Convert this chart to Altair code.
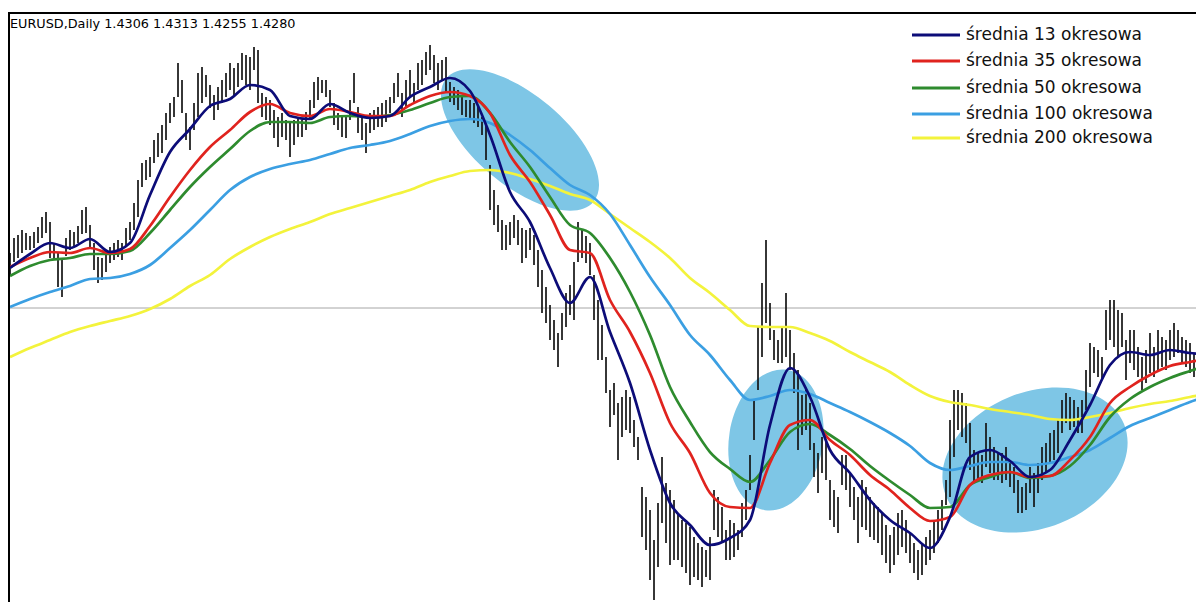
import altair as alt
import pandas as pd

# ---------------- data ----------------
title_text = "EURUSD,Daily  1.4306 1.4313 1.4255 1.4280"
last_close = 1.4280

legend_labels = ["średnia 13 okresowa", "średnia 35 okresowa", "średnia 50 okresowa",
                 "średnia 100 okresowa", "średnia 200 okresowa"]

bar_high = [
    1.4555, 1.4630, 1.4645, 1.4670, 1.4655, 1.4640, 1.4660, 1.4685, 1.4735, 1.4760,
    1.4710, 1.4605, 1.4555, 1.4520, 1.4630, 1.4670, 1.4660, 1.4690, 1.4770, 1.4785,
    1.4695, 1.4605, 1.4535, 1.4530, 1.4560, 1.4585, 1.4605, 1.4620, 1.4605, 1.4680,
    1.4710, 1.4805, 1.4920, 1.5005, 1.5020, 1.5035, 1.5120, 1.5155, 1.5195, 1.5255,
    1.5305, 1.5335, 1.5505, 1.5420, 1.5255, 1.5185, 1.5305, 1.5455, 1.5485, 1.5445,
    1.5395, 1.5345, 1.5385, 1.5420, 1.5455, 1.5505, 1.5480, 1.5505, 1.5555, 1.5545,
    1.5535, 1.5585, 1.5570, 1.5355, 1.5335, 1.5320, 1.5270, 1.5235, 1.5255, 1.5220,
    1.5205, 1.5220, 1.5235, 1.5220, 1.5260, 1.5320, 1.5410, 1.5435, 1.5420, 1.5420,
    1.5370, 1.5305, 1.5255, 1.5235, 1.5235, 1.5320, 1.5455, 1.5285, 1.5235, 1.5205,
    1.5255, 1.5270, 1.5285, 1.5305, 1.5320, 1.5335, 1.5405, 1.5455, 1.5355, 1.5420,
    1.5470, 1.5405, 1.5505, 1.5520, 1.5560, 1.5595, 1.5545, 1.5505, 1.5520, 1.5535,
    1.5410, 1.5385, 1.5370, 1.5345, 1.5320, 1.5320, 1.5305, 1.5285, 1.5235, 1.5195,
    1.4995, 1.4870, 1.4795, 1.4720, 1.4695, 1.4710, 1.4745, 1.4720, 1.4680, 1.4670,
    1.4680, 1.4645, 1.4570, 1.4470, 1.4385, 1.4295, 1.4220, 1.4155, 1.4255, 1.4355,
    1.4395, 1.4510, 1.4710, 1.4670, 1.4640, 1.4605, 1.4445, 1.4320, 1.4195, 1.4035,
    1.3870, 1.3905, 1.3805, 1.3835, 1.3870, 1.3835, 1.3720, 1.3635, 1.3385, 1.3335,
    1.3270, 1.3120, 1.3305, 1.3535, 1.3405, 1.3370, 1.3320, 1.3255, 1.3220, 1.3205,
    1.3185, 1.3135, 1.3105, 1.3085, 1.3070, 1.3135, 1.3370, 1.3335, 1.3285, 1.3170,
    1.3220, 1.3205, 1.3170, 1.3305, 1.3370, 1.3545, 1.3820, 1.4185, 1.4405, 1.4620,
    1.4305, 1.4170, 1.4120, 1.4185, 1.4355, 1.4170, 1.4055, 1.3970, 1.3845, 1.3870,
    1.3805, 1.3605, 1.3555, 1.3635, 1.3620, 1.3420, 1.3370, 1.3335, 1.3545, 1.3545,
    1.3455, 1.3385, 1.3335, 1.3420, 1.3385, 1.3335, 1.3305, 1.3285, 1.3255, 1.3195,
    1.3145, 1.3185, 1.3255, 1.3270, 1.3220, 1.3155, 1.3105, 1.3070, 1.3105, 1.3135,
    1.3170, 1.3220, 1.3270, 1.3320, 1.3420, 1.3720, 1.3870, 1.3870, 1.3855, 1.3805,
    1.3705, 1.3570, 1.3555, 1.3545, 1.3705, 1.3635, 1.3585, 1.3555, 1.3555, 1.3585,
    1.3520, 1.3485, 1.3420, 1.3385, 1.3405, 1.3485, 1.3455, 1.3505, 1.3585, 1.3605,
    1.3655, 1.3670, 1.3720, 1.3820, 1.3855, 1.3835, 1.3820, 1.3785, 1.3820, 1.3970,
    1.4105, 1.4085, 1.4070, 1.4035, 1.4270, 1.4320, 1.4320, 1.4270, 1.4255, 1.4120,
    1.4170, 1.4170, 1.4085, 1.4035, 1.4070, 1.4155, 1.4085, 1.4170, 1.4135, 1.4120,
    1.4170, 1.4205, 1.4170, 1.4135, 1.4120, 1.4105, 1.4055, 1.4085, 1.4170,
]

bar_low = [
    1.4445, 1.4510, 1.4530, 1.4555, 1.4570, 1.4570, 1.4580, 1.4605, 1.4630, 1.4655,
    1.4530, 1.4520, 1.4385, 1.4335, 1.4540, 1.4570, 1.4585, 1.4605, 1.4650, 1.4655,
    1.4585, 1.4470, 1.4405, 1.4420, 1.4460, 1.4505, 1.4520, 1.4535, 1.4520, 1.4595,
    1.4620, 1.4670, 1.4735, 1.4885, 1.4920, 1.4935, 1.5005, 1.5035, 1.5055, 1.5120,
    1.5205, 1.5235, 1.5335, 1.5255, 1.5120, 1.5070, 1.5170, 1.5235, 1.5305, 1.5335,
    1.5280, 1.5220, 1.5270, 1.5305, 1.5335, 1.5370, 1.5335, 1.5385, 1.5420, 1.5395,
    1.5370, 1.5470, 1.5305, 1.5235, 1.5220, 1.5195, 1.5130, 1.5085, 1.5135, 1.5120,
    1.5035, 1.5095, 1.5135, 1.5135, 1.5170, 1.5220, 1.5280, 1.5320, 1.5355, 1.5335,
    1.5285, 1.5195, 1.5170, 1.5135, 1.5130, 1.5220, 1.5305, 1.5155, 1.5120, 1.5055,
    1.5155, 1.5170, 1.5185, 1.5185, 1.5210, 1.5255, 1.5305, 1.5335, 1.5235, 1.5285,
    1.5335, 1.5305, 1.5370, 1.5395, 1.5445, 1.5470, 1.5405, 1.5370, 1.5420, 1.5355,
    1.5310, 1.5295, 1.5270, 1.5245, 1.5235, 1.5220, 1.5205, 1.5185, 1.5145, 1.5020,
    1.4770, 1.4695, 1.4660, 1.4570, 1.4570, 1.4595, 1.4630, 1.4595, 1.4505, 1.4530,
    1.4570, 1.4495, 1.4385, 1.4255, 1.4205, 1.4120, 1.4070, 1.3985, 1.4120, 1.4185,
    1.4245, 1.4220, 1.4510, 1.4530, 1.4505, 1.4445, 1.4220, 1.4020, 1.4020, 1.3855,
    1.3685, 1.3745, 1.3520, 1.3635, 1.3670, 1.3655, 1.3585, 1.3520, 1.3135, 1.3070,
    1.2920, 1.2820, 1.2985, 1.3205, 1.3105, 1.2995, 1.3020, 1.3020, 1.2985, 1.2955,
    1.2895, 1.2935, 1.2920, 1.2885, 1.2935, 1.2920, 1.3170, 1.3135, 1.3105, 1.3020,
    1.3020, 1.3035, 1.3070, 1.3135, 1.3220, 1.3370, 1.3620, 1.3870, 1.4035, 1.4205,
    1.4120, 1.4020, 1.4005, 1.4005, 1.4035, 1.3970, 1.3855, 1.3570, 1.3645, 1.3670,
    1.3570, 1.3435, 1.3355, 1.3455, 1.3420, 1.3220, 1.3185, 1.3155, 1.3395, 1.3370,
    1.3285, 1.3220, 1.3105, 1.3185, 1.3170, 1.3135, 1.3120, 1.3105, 1.3045, 1.3005,
    1.2955, 1.2995, 1.3045, 1.3085, 1.3055, 1.3005, 1.2955, 1.2920, 1.2945, 1.2995,
    1.3020, 1.3055, 1.3105, 1.3170, 1.3295, 1.3335, 1.3535, 1.3670, 1.3635, 1.3605,
    1.3470, 1.3405, 1.3420, 1.3405, 1.3485, 1.3455, 1.3420, 1.3420, 1.3405, 1.3420,
    1.3385, 1.3355, 1.3255, 1.3255, 1.3270, 1.3355, 1.3285, 1.3355, 1.3420, 1.3455,
    1.3505, 1.3520, 1.3555, 1.3655, 1.3705, 1.3670, 1.3685, 1.3655, 1.3655, 1.3770,
    1.3885, 1.3955, 1.3935, 1.3920, 1.4070, 1.4120, 1.4085, 1.4035, 1.4085, 1.3920,
    1.4005, 1.3970, 1.3935, 1.3870, 1.3905, 1.3955, 1.3935, 1.3970, 1.3985, 1.3970,
    1.4020, 1.4035, 1.4055, 1.4005, 1.3985, 1.3955, 1.3935, 1.3970, 1.4005,
]

ma_index = [0, 5, 10, 15, 20, 25, 30, 35, 40, 45,
            50, 55, 60, 65, 70, 75, 80, 85, 90, 95,
            100, 105, 110, 115, 120, 125, 130, 135, 140, 145,
            150, 155, 160, 165, 170, 175, 180, 185, 190, 195,
            200, 205, 210, 215, 220, 225, 230, 235, 240, 245,
            250, 255, 260, 265, 270, 275, 280, 285, 290, 295, 298]

ma13 = [1.4480, 1.4550, 1.4605, 1.4580, 1.4625, 1.4560, 1.4605, 1.4845, 1.5060, 1.5175,
        1.5290, 1.5325, 1.5395, 1.5370, 1.5240, 1.5225, 1.5300, 1.5255, 1.5230, 1.5240,
        1.5335, 1.5385, 1.5430, 1.5365, 1.5145, 1.4860, 1.4710, 1.4480, 1.4305, 1.4435,
        1.4160, 1.3905, 1.3570, 1.3305, 1.3195, 1.3095, 1.3130, 1.3220, 1.3695, 1.3980,
        1.3835, 1.3570, 1.3455, 1.3320, 1.3220, 1.3155, 1.3080, 1.3235, 1.3535, 1.3570,
        1.3515, 1.3435, 1.3470, 1.3620, 1.3795, 1.3995, 1.4060, 1.4045, 1.4070, 1.4055, 1.4050]

ma35 = [1.4485, 1.4530, 1.4560, 1.4555, 1.4580, 1.4555, 1.4575, 1.4690, 1.4835, 1.4970,
        1.5085, 1.5170, 1.5260, 1.5300, 1.5255, 1.5240, 1.5275, 1.5260, 1.5240, 1.5240,
        1.5295, 1.5340, 1.5360, 1.5340, 1.5255, 1.5045, 1.4910, 1.4745, 1.4570, 1.4555,
        1.4320, 1.4160, 1.3955, 1.3705, 1.3555, 1.3355, 1.3285, 1.3280, 1.3505, 1.3695,
        1.3720, 1.3620, 1.3545, 1.3445, 1.3370, 1.3280, 1.3215, 1.3235, 1.3395, 1.3445,
        1.3460, 1.3435, 1.3440, 1.3520, 1.3635, 1.3805, 1.3885, 1.3945, 1.3990, 1.4010, 1.4020]

ma50 = [1.4440, 1.4490, 1.4520, 1.4530, 1.4550, 1.4550, 1.4565, 1.4655, 1.4770, 1.4885,
        1.4985, 1.5075, 1.5165, 1.5210, 1.5210, 1.5205, 1.5235, 1.5240, 1.5235, 1.5245,
        1.5270, 1.5305, 1.5335, 1.5340, 1.5255, 1.5110, 1.4985, 1.4835, 1.4695, 1.4655,
        1.4530, 1.4360, 1.4145, 1.3885, 1.3710, 1.3560, 1.3475, 1.3410, 1.3520, 1.3660,
        1.3700, 1.3645, 1.3575, 1.3490, 1.3415, 1.3345, 1.3280, 1.3285, 1.3395, 1.3435,
        1.3460, 1.3430, 1.3440, 1.3490, 1.3595, 1.3735, 1.3825, 1.3885, 1.3930, 1.3965, 1.3985]

ma100 = [1.4285, 1.4325, 1.4360, 1.4390, 1.4425, 1.4430, 1.4450, 1.4495, 1.4580, 1.4670,
         1.4770, 1.4870, 1.4935, 1.4975, 1.5000, 1.5020, 1.5050, 1.5080, 1.5095, 1.5115,
         1.5150, 1.5190, 1.5215, 1.5225, 1.5205, 1.5145, 1.5070, 1.4980, 1.4895, 1.4845,
         1.4750, 1.4595, 1.4435, 1.4295, 1.4145, 1.4045, 1.3920, 1.3820, 1.3840, 1.3870,
         1.3850, 1.3805, 1.3760, 1.3710, 1.3655, 1.3590, 1.3505, 1.3470, 1.3490, 1.3510,
         1.3510, 1.3495, 1.3505, 1.3535, 1.3570, 1.3630, 1.3690, 1.3730, 1.3770, 1.3810, 1.3830]

ma200 = [1.4035, 1.4080, 1.4120, 1.4160, 1.4190, 1.4215, 1.4240, 1.4275, 1.4325, 1.4390,
         1.4445, 1.4525, 1.4585, 1.4635, 1.4675, 1.4710, 1.4750, 1.4780, 1.4810, 1.4840,
         1.4870, 1.4910, 1.4940, 1.4965, 1.4970, 1.4955, 1.4925, 1.4890, 1.4850, 1.4820,
         1.4750, 1.4680, 1.4610, 1.4530, 1.4430, 1.4355, 1.4270, 1.4190, 1.4185, 1.4185,
         1.4155, 1.4115, 1.4060, 1.4010, 1.3960, 1.3895, 1.3840, 1.3810, 1.3795, 1.3775,
         1.3760, 1.3745, 1.3725, 1.3720, 1.3735, 1.3755, 1.3780, 1.3800, 1.3815, 1.3835, 1.3845]

# highlighted regions (centre bar index, centre price)
highlight_index = [127.5, 191.5, 256.25]
highlight_price = [1.512, 1.362, 1.352]

# ---------------- styles ----------------
ma_colors = ["#0c0c78", "#e0231e", "#2e8b2e", "#3b9fe2", "#f3f33c"]
ellipse_axes = [(96, 45, 40), (71, 47, 99), (96, 68, 338)]  # semi-major px, semi-minor px, rotation
ellipse_color = "#7ec6e6"

W, H = 1188, 594
x_scale = alt.Scale(domain=[-0.5, 296.5], nice=False, zero=False)
y_scale = alt.Scale(domain=[1.281, 1.578], nice=False, zero=False)


def ellipse_path(r):
    k = 0.5523
    return (f"M1,0 C1,{k*r:.4f} {k:.4f},{r:.4f} 0,{r:.4f} "
            f"C{-k:.4f},{r:.4f} -1,{k*r:.4f} -1,0 "
            f"C-1,{-k*r:.4f} {-k:.4f},{-r:.4f} 0,{-r:.4f} "
            f"C{k:.4f},{-r:.4f} 1,{-k*r:.4f} 1,0 Z")


layers = []

# ellipses
ell_df = pd.DataFrame({
    "idx": highlight_index,
    "price": highlight_price,
    "shape": [ellipse_path(b / a) for a, b, _ in ellipse_axes],
    "size": [4 * a * a for a, b, _ in ellipse_axes],
    "angle": [ang for _, _, ang in ellipse_axes],
})
layers.append(
    alt.Chart(ell_df).mark_point(filled=True, opacity=1, color=ellipse_color, strokeWidth=0).encode(
        x=alt.X("idx:Q", scale=x_scale, axis=None),
        y=alt.Y("price:Q", scale=y_scale, axis=None),
        shape=alt.Shape("shape:N", scale=None),
        size=alt.Size("size:Q", scale=None),
        angle=alt.Angle("angle:Q", scale=None),
    )
)

# bid line
layers.append(
    alt.Chart(pd.DataFrame({"p": [last_close]})).mark_rule(color="#a6a6a6", strokeWidth=1).encode(
        y=alt.Y("p:Q", scale=y_scale, axis=None)
    )
)

# price bars
bars_df = pd.DataFrame({"idx": list(range(len(bar_high))), "high": bar_high, "low": bar_low})
layers.append(
    alt.Chart(bars_df).mark_rule(color="#141414", strokeWidth=1.7, clip=True).encode(
        x=alt.X("idx:Q", scale=x_scale, axis=None),
        y=alt.Y("low:Q", scale=y_scale, axis=None),
        y2="high:Q",
    )
)

# moving averages (drawn slowest first)
ma_series = [ma13, ma35, ma50, ma100, ma200]
for k in [4, 3, 2, 1, 0]:
    df = pd.DataFrame({"idx": ma_index, "price": ma_series[k]})
    layers.append(
        alt.Chart(df).mark_line(color=ma_colors[k], strokeWidth=2.7, interpolate="monotone", clip=True).encode(
            x=alt.X("idx:Q", scale=x_scale, axis=None),
            y=alt.Y("price:Q", scale=y_scale, axis=None),
        )
    )

# legend
legend_y = [27, 53, 80, 106, 130]
for lab, col, ly in zip(legend_labels, ma_colors, legend_y):
    layers.append(
        alt.Chart(pd.DataFrame({"label": [lab]})).mark_rule(color=col, strokeWidth=2.8).encode(
            x=alt.value(904), x2=alt.value(952), y=alt.value(ly)
        )
    )
    layers.append(
        alt.Chart(pd.DataFrame({"label": [lab]})).mark_text(
            align="left", baseline="middle", font="DejaVu Sans", fontSize=17, color="#111111"
        ).encode(x=alt.value(958), y=alt.value(ly), text="label:N")
    )

# title inside chart
layers.append(
    alt.Chart(pd.DataFrame({"t": [title_text]})).mark_text(
        align="left", baseline="middle", font="DejaVu Sans", fontSize=12.8, color="#000000"
    ).encode(x=alt.value(2), y=alt.value(16), text="t:N")
)

# frame
layers.append(
    alt.Chart(pd.DataFrame({"f": [0]})).mark_rule(color="#000000", strokeWidth=2).encode(
        x=alt.value(0), x2=alt.value(W), y=alt.value(5)
    )
)
layers.append(
    alt.Chart(pd.DataFrame({"f": [0]})).mark_rule(color="#000000", strokeWidth=2).encode(
        x=alt.value(1), y=alt.value(5), y2=alt.value(H)
    )
)

chart = alt.layer(*layers).properties(
    width=W, height=H, padding=0,
    autosize=alt.AutoSizeParams(type="none"),
    background="white",
).configure_view(stroke=None)

chart.save("out.html", embed_options={"renderer": "svg", "actions": False})
